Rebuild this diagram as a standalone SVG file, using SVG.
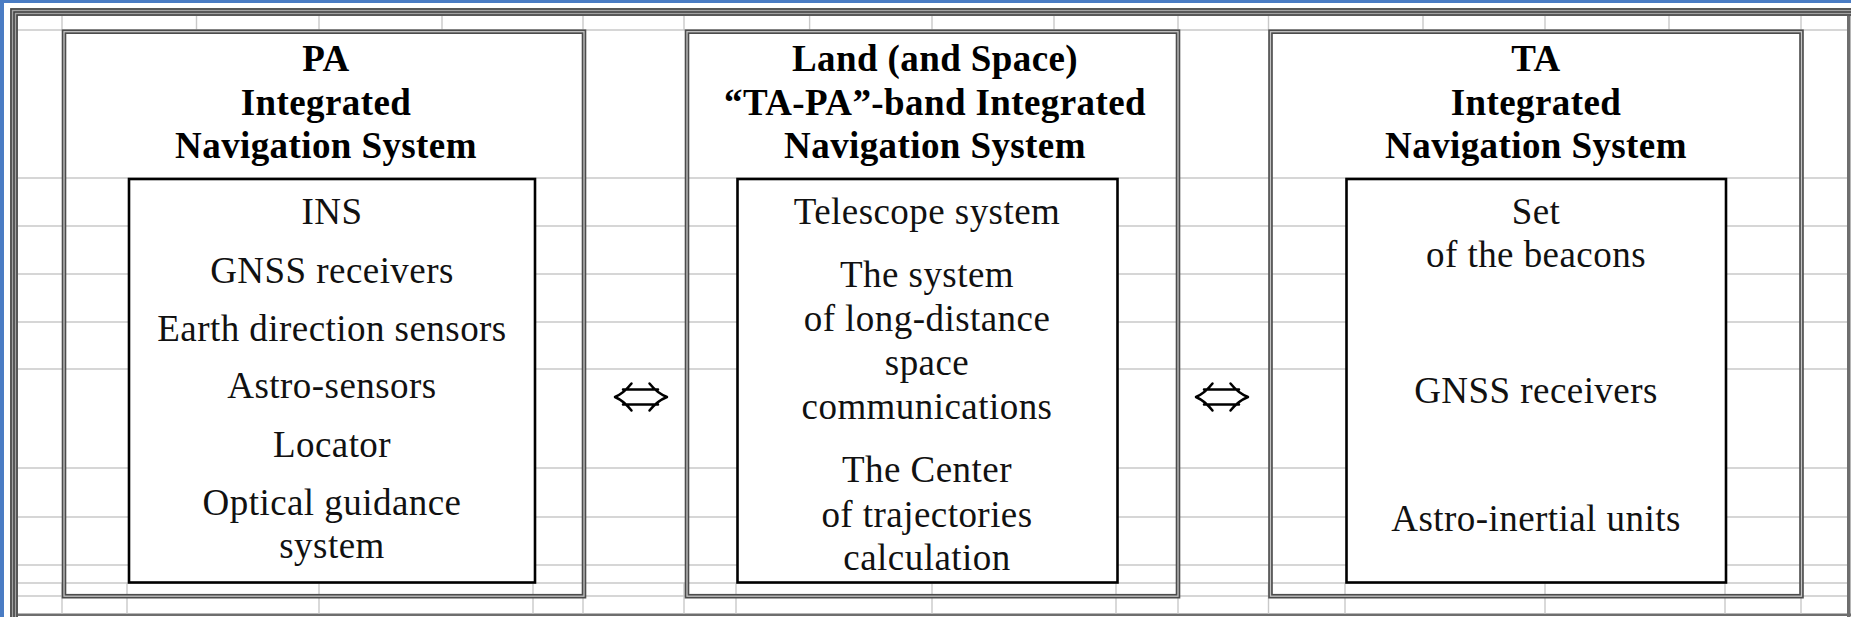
<svg xmlns="http://www.w3.org/2000/svg" width="1851" height="617" viewBox="0 0 1851 617">
<style>
.grid{stroke:#c9c9c9;stroke-width:1.4;fill:none}
.band{stroke:#4c4c4c;stroke-width:4.6;fill:none}
.band-gap{stroke:#c4c4c4;stroke-width:1.3;fill:none}
.inner{stroke:#000;stroke-width:2.6;fill:#fff}
.hd{font-family:'Liberation Serif','Times New Roman',serif;font-weight:bold;font-size:37px;letter-spacing:0.4px;text-anchor:middle;fill:#000}
.it{font-family:'Liberation Serif','Times New Roman',serif;font-size:37px;letter-spacing:0.45px;text-anchor:middle;fill:#111}
.arrow{stroke:#000;stroke-width:2.5;fill:none;stroke-linecap:round;stroke-linejoin:round}
</style>
<rect width="1851" height="617" fill="#fff"/>

<!-- sheet window chrome -->
<g id="window">
  <rect x="0" y="0" width="4" height="617" fill="#4a7cc4"/>
  <rect x="0" y="0" width="1851" height="3" fill="#4a7cc4"/>
  <path d="M10 617V8H1851V16H18V617Z" fill="#a3a3a3"/>
  <path d="M11 617V9H1851M14 617V12H1851M17 617V15H1851" stroke="#404040" stroke-width="1.5" fill="none"/>
  <rect x="1847" y="16" width="3.5" height="601" fill="#6e6e6e"/>
  <rect x="18" y="613.5" width="1833" height="2.5" fill="#6e6e6e"/>
</g>

<!-- cell grid -->
<g id="grid">
  <path class="grid" d="M18 30H1847M18 178H1847M18 226H1847M18 274H1847M18 322H1847M18 369H1847M18 468H1847M18 517H1847M18 565H1847M18 583H1847M18 596H1847"/>
  <path class="grid" d="M62 16V30M196.5 16V30M319 16V30M442 16V30M583 16V30M684 16V30M809.6 16V30M932 16V30M1054 16V30M1178 16V30M1268.5 16V30M1423 16V30M1545 16V30M1669 16V30M1801 16V30"/>
  <path class="grid" d="M62 583V613.5M127 583V613.5M319 583V613.5M533 583V613.5M583 583V613.5M684 583V613.5M736 583V613.5M932 583V613.5M1116 583V613.5M1178 583V613.5M1268.5 583V613.5M1345 583V613.5M1545 583V613.5M1725 583V613.5M1801 583V613.5"/>
</g>

<!-- PA integrated navigation system -->
<g id="node-pa">
  <rect class="band" x="64" y="31.7" width="520" height="564.5"/>
  <rect class="band-gap" x="64" y="31.7" width="520" height="564.5"/>
  <rect class="inner" x="129" y="179" width="406" height="403.5"/>
  <text class="hd" x="326" y="71">PA</text>
  <text class="hd" x="326" y="114.5">Integrated</text>
  <text class="hd" x="326" y="157.5">Navigation System</text>
  <text class="it" x="332" y="224">INS</text>
  <text class="it" x="332" y="283">GNSS receivers</text>
  <text class="it" x="332" y="340.5">Earth direction sensors</text>
  <text class="it" x="332" y="398">Astro-sensors</text>
  <text class="it" x="332" y="457">Locator</text>
  <text class="it" x="332" y="515">Optical guidance</text>
  <text class="it" x="332" y="558">system</text>
</g>

<!-- Land (and Space) TA-PA-band system -->
<g id="node-land">
  <rect class="band" x="687" y="31.7" width="491" height="564.5"/>
  <rect class="band-gap" x="687" y="31.7" width="491" height="564.5"/>
  <rect class="inner" x="737.5" y="179" width="380" height="403.5"/>
  <text class="hd" x="935" y="71">Land (and Space)</text>
  <text class="hd" x="935" y="114.5">“TA-PA”-band Integrated</text>
  <text class="hd" x="935" y="157.5">Navigation System</text>
  <text class="it" x="927" y="224">Telescope system</text>
  <text class="it" x="927" y="287">The system</text>
  <text class="it" x="927" y="331">of long-distance</text>
  <text class="it" x="927" y="375">space</text>
  <text class="it" x="927" y="419">communications</text>
  <text class="it" x="927" y="481.5">The Center</text>
  <text class="it" x="927" y="526.5">of trajectories</text>
  <text class="it" x="927" y="570">calculation</text>
</g>

<!-- TA integrated navigation system -->
<g id="node-ta">
  <rect class="band" x="1270.5" y="31.7" width="531" height="564.5"/>
  <rect class="band-gap" x="1270.5" y="31.7" width="531" height="564.5"/>
  <rect class="inner" x="1346.5" y="179" width="379.5" height="403.5"/>
  <text class="hd" x="1536" y="71">TA</text>
  <text class="hd" x="1536" y="114.5">Integrated</text>
  <text class="hd" x="1536" y="157.5">Navigation System</text>
  <text class="it" x="1536" y="224">Set</text>
  <text class="it" x="1536" y="266.5">of the beacons</text>
  <text class="it" x="1536" y="403">GNSS receivers</text>
  <text class="it" x="1536" y="530.5">Astro-inertial units</text>
</g>

<!-- two-way links between the systems -->
<g id="connectors">
  <g transform="translate(641 397)">
    <path class="arrow" d="M-18 -7.5H17M-18 7.5H17M-9.5 -13.5Q-17 -4 -26 0Q-17 4 -9.5 13.5M8.5 -13.5Q16 -4 26 0Q16 4 8.5 13.5"/>
  </g>
  <g transform="translate(1222 397)">
    <path class="arrow" d="M-18 -7.5H17M-18 7.5H17M-9.5 -13.5Q-17 -4 -26 0Q-17 4 -9.5 13.5M8.5 -13.5Q16 -4 26 0Q16 4 8.5 13.5"/>
  </g>
</g>
</svg>
